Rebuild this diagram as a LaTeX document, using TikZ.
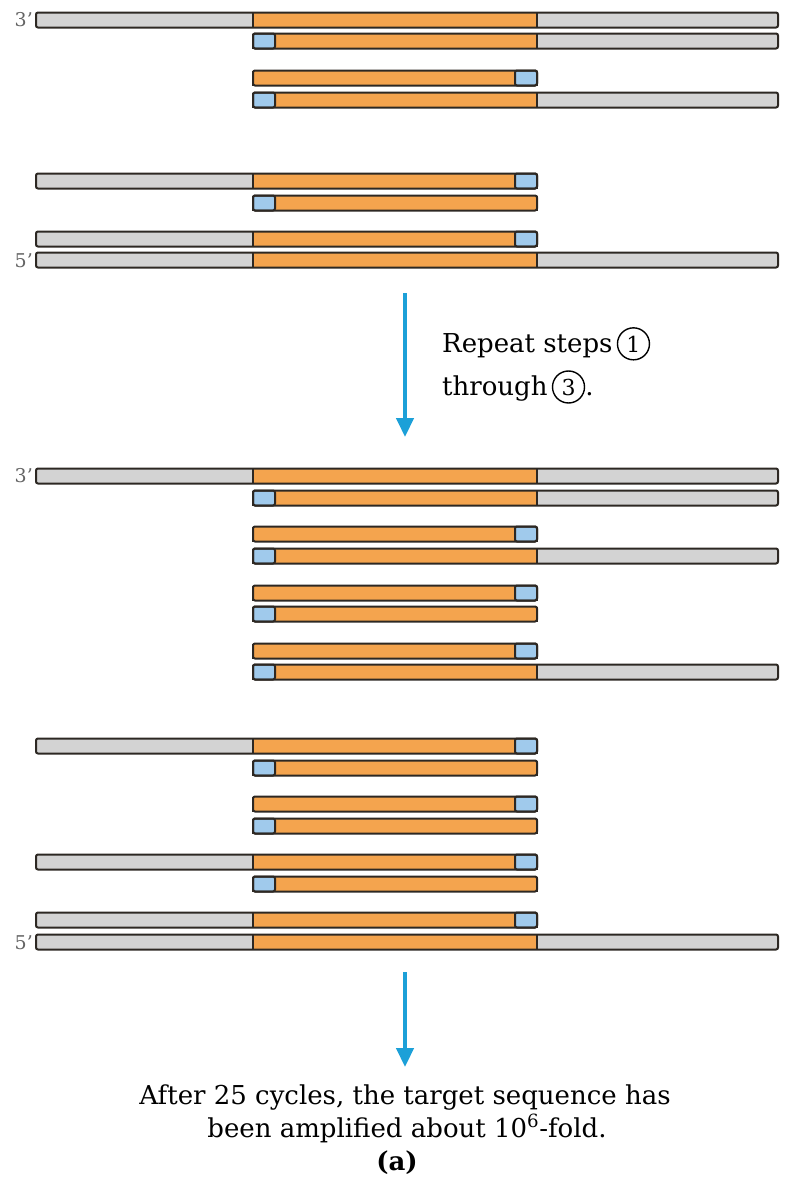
\documentclass[tikz,border=0pt]{standalone}
\usepackage{fontspec}
\setmainfont{DejaVu Serif}
\usepackage{tikz}
\usetikzlibrary{arrows.meta,positioning}
\definecolor{dnagray}{RGB}{211,211,211}
\definecolor{dnaorange}{RGB}{244,164,78}
\definecolor{primerblue}{RGB}{160,202,236}
\definecolor{strandedge}{RGB}{45,40,35}
\definecolor{arrowblue}{RGB}{28,160,216}
\definecolor{endgray}{RGB}{100,100,100}
\tikzset{>={Triangle[width=17pt,length=19pt]}}

\begin{document}
\begin{tikzpicture}[x=1pt,y=-1pt,
    strandline/.style={line width=2pt,draw=strandedge,rounded corners=2pt},
    cutline/.style={line width=2pt,draw=strandedge},
    bigarrow/.style={->,line width=4.5pt,draw=arrowblue},
    endlabel/.style={text=endgray,font=\fontsize{19}{19}\selectfont,inner sep=0pt},
    bodytext/.style={font=\fontsize{26}{33}\selectfont,inner sep=0pt},
    stepcircle/.style={draw,circle,line width=1.4pt,inner sep=0pt,minimum size=32pt,
      font=\fontsize{22}{22}\selectfont}]

  \useasboundingbox (0,0) rectangle (795,1200);

  % strands: y / left end / right end / primer (0 = none)
  \foreach \y/\xa/\xb/\p in {20/36/778/0, 41/253/778/253, 78/253/537/515, 100/253/778/253,
      181/36/537/515, 203/253/537/253, 239/36/537/515, 260/36/778/0,
      476/36/778/0, 498/253/778/253, 534/253/537/515, 556/253/778/253,
      593/253/537/515, 614/253/537/253, 651/253/537/515, 672/253/778/253,
      746/36/537/515, 768/253/537/253, 804/253/537/515, 826/253/537/253,
      862/36/537/515, 884/253/537/253, 920/36/537/515, 942/36/778/0} {
    \fill[dnagray,rounded corners=2pt] (\xa,\y-7.5) rectangle (\xb,\y+7.5);
    \fill[dnaorange] (253,\y-7.5) rectangle (537,\y+7.5); % target sequence
    \ifnum\p>0
      \fill[primerblue] (\p,\y-7.5) rectangle (\p+22,\y+7.5); % primer
      \draw[strandline] (\p,\y-7.5) rectangle (\p+22,\y+7.5);
    \fi
    \draw[cutline] (253,\y-7.5) -- (253,\y+7.5);
    \draw[cutline] (537,\y-7.5) -- (537,\y+7.5);
    \draw[strandline] (\xa,\y-7.5) rectangle (\xb,\y+7.5);
  }

  % strand ends
  \node[endlabel,anchor=east] (threeA) at (33,20) {3'};
  \node[endlabel,anchor=east] (fiveA) at (33,261) {5'};
  \node[endlabel,anchor=east] (threeB) at (33,476) {3'};
  \node[endlabel,anchor=east] (fiveB) at (33,943) {5'};

  % first arrow and its text
  \coordinate (repeattop) at (405,293);
  \coordinate (repeatbot) at (405,437);
  \draw[bigarrow] (repeattop) -- (repeatbot);
  \node[bodytext,anchor=base west] (repeatA) at (442,352) {Repeat steps};
  \node[stepcircle,anchor=base west] (stepone) at ([xshift=4pt]repeatA.base east) {1};
  \node[bodytext,anchor=base west] (repeatB) at (442,395) {through};
  \node[stepcircle,anchor=base west] (stepthree) at ([xshift=4pt]repeatB.base east) {3};
  \node[bodytext,anchor=base west] (repeatdot) at (stepthree.base east) {.};

  % second arrow and caption
  \coordinate (cycletop) at (405,972);
  \coordinate (cyclebot) at (405,1067);
  \draw[bigarrow] (cycletop) -- (cyclebot);
  \node[bodytext,anchor=base] (afterA) at (405,1104) {After 25 cycles, the target sequence has};
  \node[bodytext,anchor=base] (afterB) at (407,1137) {been amplified about 10\textsuperscript{6}-fold.};
  \node[bodytext,anchor=base] (partlabel) at (397,1170) {\bfseries (a)};

\end{tikzpicture}
\end{document}
